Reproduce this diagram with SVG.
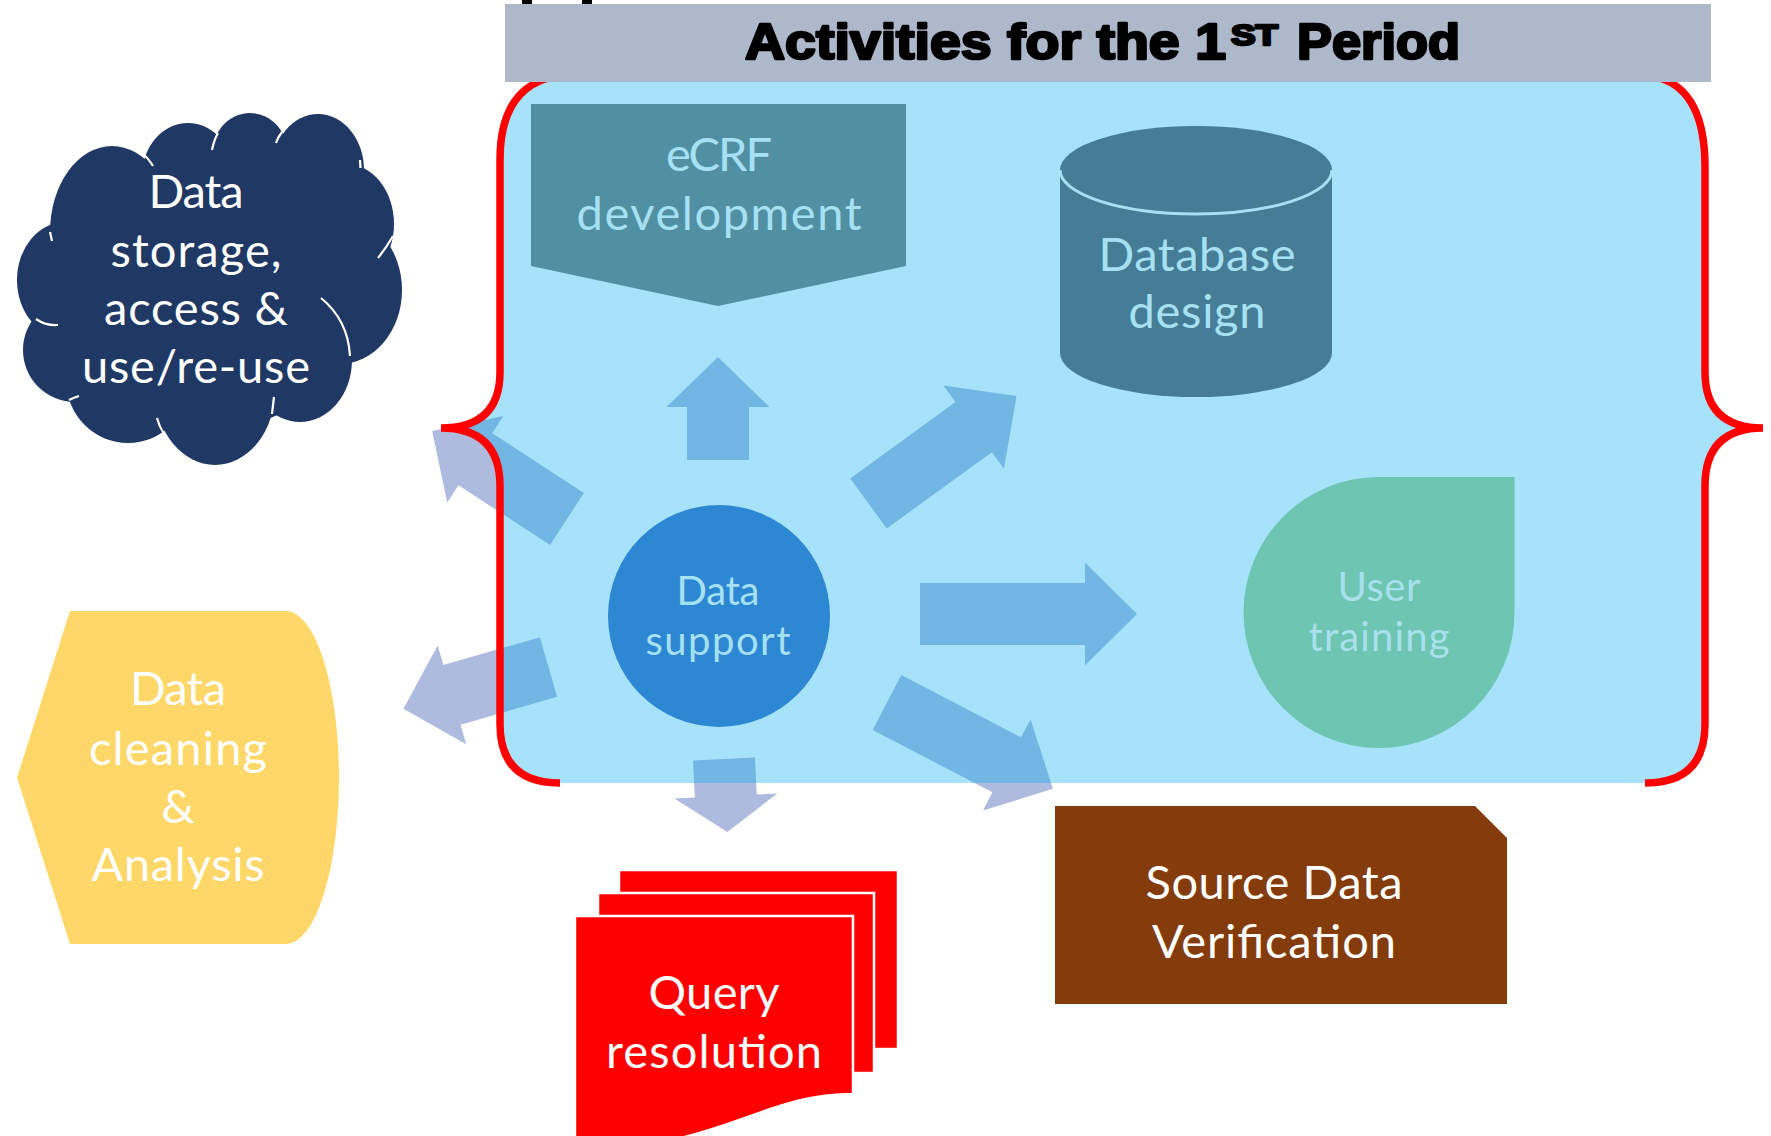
<svg xmlns="http://www.w3.org/2000/svg" width="1771" height="1136" viewBox="0 0 1771 1136">
<defs>
<style>
.big{font-family:Lato,"Open Sans","Liberation Sans",sans-serif;font-size:47px;text-anchor:middle}
.small{font-family:Lato,"Open Sans","Liberation Sans",sans-serif;font-size:40px;text-anchor:middle}
.wt{fill:#FFFFFF}
.lt{fill:#A6E1F3}
.arrow{fill:#AFBBDE}
.brace{fill:none;stroke:#FF0000;stroke-width:7.5}
.cloudline{fill:none;stroke:#FFFFFF;stroke-width:2.2}
.doc{fill:#FF0000;stroke:#FFFFFF;stroke-width:2.5}
</style>
</defs>
<rect x="0" y="0" width="1771" height="1136" fill="#FFFFFF"/>
<rect x="522" y="0" width="10" height="4" fill="#000000"/>
<rect x="582" y="0" width="10" height="4" fill="#000000"/>

<g id="cloud-storage">
<g fill="#203864">
<ellipse cx="112" cy="232" rx="62" ry="86"/>
<ellipse cx="188" cy="176" rx="46" ry="53"/>
<ellipse cx="250" cy="160" rx="40" ry="47"/>
<ellipse cx="318" cy="170" rx="46" ry="56"/>
<ellipse cx="346" cy="224" rx="48" ry="60"/>
<ellipse cx="340" cy="290" rx="62" ry="74"/>
<ellipse cx="300" cy="360" rx="52" ry="62"/>
<ellipse cx="215" cy="390" rx="60" ry="75"/>
<ellipse cx="128" cy="380" rx="62" ry="63"/>
<ellipse cx="75" cy="350" rx="52" ry="52"/>
<ellipse cx="65" cy="280" rx="48" ry="58"/>
<ellipse cx="210" cy="290" rx="150" ry="140"/>
</g>
<path class="cloudline" d="M143 154 Q148 158 153 166"/>
<path class="cloudline" d="M212 150 Q214 140 218 133"/>
<path class="cloudline" d="M276 143 Q278 137 282 132"/>
<path class="cloudline" d="M360 160 L360.5 168"/>
<path class="cloudline" d="M378 258 Q386 248 393 236"/>
<path class="cloudline" d="M321 298 Q348 320 350 356"/>
<path class="cloudline" d="M274 397 Q273 405 272 414"/>
<path class="cloudline" d="M157 418 Q159 426 164 434"/>
<path class="cloudline" d="M69 400 Q73 398 79 396"/>
<path class="cloudline" d="M36 319 Q46 326 58 325"/>
<path class="cloudline" d="M50 232 L52 241"/>
<text class="big wt" x="196" y="208" textLength="95">Data</text>
<text class="big wt" x="196" y="267" textLength="171">storage,</text>
<text class="big wt" x="196" y="325" textLength="184">access &amp;</text>
<text class="big wt" x="196" y="383" textLength="228">use/re-use</text>
</g>

<g id="data-cleaning">
<path d="M17 777.5 L70 611 H286 A53 166.5 0 0 1 286 944 H70 Z" fill="#FDD868"/>
<text class="big wt" x="178" y="705" textLength="96">Data</text>
<text class="big wt" x="178" y="765" textLength="178">cleaning</text>
<text class="big wt" x="178" y="823" textLength="32">&amp;</text>
<text class="big wt" x="178" y="881" textLength="173">Analysis</text>
</g>

<g id="query-resolution">
<rect class="doc" x="619" y="870" width="279" height="179"/>
<rect class="doc" x="598" y="893" width="276" height="180"/>
<path class="doc" d="M575 916 H853 V1094 C760 1094 720 1150 575 1150 Z"/>
<text class="big wt" x="714" y="1009" textLength="131">Query</text>
<text class="big wt" x="714" y="1068" textLength="216">resolution</text>
</g>

<g id="source-data-verification">
<path d="M1055 806 H1475 L1507 838 V1004 H1055 Z" fill="#843C0C"/>
<text class="big wt" x="1274" y="899" textLength="257">Source Data</text>
<text class="big wt" x="1274" y="958" textLength="244">Verification</text>
</g>

<g id="connectors">
<path class="arrow" transform="translate(718,460) rotate(-90)" d="M0,-31 H53 V-51.5 L103,0 L53,51.5 V31 H0 Z"/>
<path class="arrow" transform="translate(868.5,503.5) rotate(-36)" d="M0,-31 H130 V-51.5 L183,0 L130,51.5 V31 H0 Z"/>
<path class="arrow" transform="translate(920,614)" d="M0,-31 H165 V-51.5 L217,0 L165,51.5 V31 H0 Z"/>
<path class="arrow" transform="translate(887,702.5) rotate(27.5)" d="M0,-31 H135 V-51.5 L187,0 L135,51.5 V31 H0 Z"/>
<path class="arrow" transform="translate(724,759) rotate(87.3)" d="M0,-31 H37 V-51.5 L73,0 L37,51.5 V31 H0 Z"/>
<path class="arrow" transform="translate(548.5,667) rotate(163.9)" d="M0,-31 H100.5 V-51.5 L151,0 L100.5,51.5 V31 H0 Z"/>
<path class="arrow" transform="translate(567,519) rotate(213.1)" d="M0,-31 H109.4 V-51.5 L161,0 L109.4,51.5 V31 H0 Z"/>
</g>

<g id="period-container">
<path d="M548 60 H1660 V78 Q1705 92 1705 167 V372 Q1705 428 1763 428 Q1705 428 1705 486 V724 Q1705 783 1645 783 H560 Q500 783 500 724 V486 Q500 428 441 428 Q500 428 500 372 V160 Q500 92 548 78 Z" fill="#00B0F0" fill-opacity="0.35"/>
<path class="brace" d="M548 78 Q500 92 500 160 V372 Q500 428 441 428 M441 428 Q500 428 500 486 V724 Q500 783 560 783"/>
<path class="brace" d="M1660 78 Q1705 92 1705 167 V372 Q1705 428 1763 428 M1763 428 Q1705 428 1705 486 V724 Q1705 783 1645 783"/>
</g>

<g id="title">
<rect x="505" y="4" width="1206" height="78" fill="#ADB9CA"/>
<text font-family="'Liberation Sans',Arial,sans-serif" font-weight="bold" font-size="50" fill="#000000" stroke="#000000" stroke-width="2.6" stroke-linejoin="round"><tspan x="745" y="59" textLength="481" lengthAdjust="spacingAndGlyphs">Activities for the 1</tspan><tspan x="1231" y="45" font-size="30" textLength="47" lengthAdjust="spacingAndGlyphs">ST</tspan> <tspan x="1297" y="59" textLength="163" lengthAdjust="spacingAndGlyphs">Period</tspan></text>
</g>

<g id="ecrf-development">
<path d="M531 104 H906 V266 L718 306 L531 266 Z" fill="#518FA3"/>
<text class="big lt" x="719" y="171" textLength="106">eCRF</text>
<text class="big lt" x="719" y="230" textLength="285">development</text>
</g>

<g id="database-design">
<path d="M1060 170 A136 44 0 0 1 1332 170 V353 A136 44 0 0 1 1060 353 Z" fill="#447D95"/>
<path d="M1060 170 A136 44 0 0 0 1332 170" fill="none" stroke="#A6E1F3" stroke-width="3"/>
<text class="big lt" x="1197" y="271" textLength="197">Database</text>
<text class="big lt" x="1197" y="328" textLength="137">design</text>
</g>

<g id="data-support">
<circle cx="719" cy="616" r="111" fill="#2E87D2"/>
<text class="small lt" x="718" y="605" textLength="83">Data</text>
<text class="small lt" x="718" y="655" textLength="145">support</text>
</g>

<g id="user-training">
<path d="M1379 477 H1514.5 V612.5 A135.5 135.5 0 1 1 1379 477 Z" fill="#6DC5B2"/>
<text class="small" x="1379" y="601" textLength="83" fill="#A8E0EC">User</text>
<text class="small" x="1379" y="651" textLength="141" fill="#A8E0EC">training</text>
</g>
</svg>
